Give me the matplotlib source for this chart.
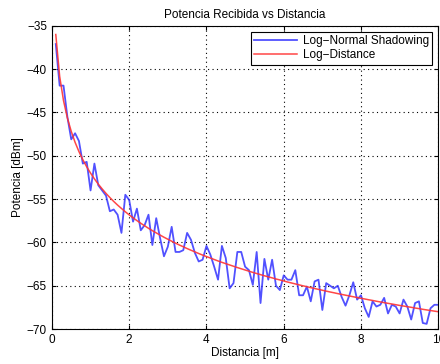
import matplotlib

matplotlib.use("Agg")
import matplotlib.pyplot as plt
import numpy as np

plt.rcParams["font.family"] = ["Liberation Sans", "DejaVu Sans"]

# distances 0.1 .. 10.0 m, step 0.1
distancia = np.round(np.arange(1, 101) * 0.1, 1)

# Log-Normal Shadowing samples (dBm)
shadowing = [
    -37.1, -41.9, -41.9, -45.5, -48.1, -47.4, -48.3, -50.9, -50.7, -54.0,
    -50.9, -53.4, -54.0, -54.6, -56.4, -56.2, -56.8, -58.9, -54.5, -55.1,
    -57.6, -56.1, -58.6, -58.0, -56.8, -60.3, -57.2, -59.5, -61.6, -60.5,
    -58.2, -61.1, -61.1, -60.9, -58.9, -59.7, -61.2, -62.2, -62.0, -60.4,
    -61.4, -62.8, -64.3, -60.4, -61.8, -65.3, -64.7, -61.1, -61.1, -62.8,
    -63.2, -64.9, -61.1, -67.0, -61.9, -64.3, -62.0, -65.0, -65.5, -63.8,
    -64.3, -64.3, -63.2, -66.1, -66.1, -65.1, -66.8, -64.5, -64.3, -67.8,
    -64.7, -65.0, -65.3, -65.0, -66.3, -67.3, -66.1, -64.6, -66.6, -66.1,
    -67.6, -68.6, -66.8, -67.4, -67.2, -66.4, -68.2, -67.2, -67.4, -68.2,
    -66.6, -67.4, -68.9, -67.0, -66.8, -69.3, -69.4, -67.6, -67.2, -67.2,
]

# Log-Distance curve (dBm)
log_distance = [
    -36.00, -40.82, -43.63, -45.63, -47.18, -48.45, -49.52, -50.45, -51.27, -52.00,
    -52.66, -53.27, -53.82, -54.34, -54.82, -55.27, -55.69, -56.08, -56.46, -56.82,
    -57.16, -57.48, -57.79, -58.08, -58.37, -58.64, -58.90, -59.15, -59.40, -59.63,
    -59.86, -60.08, -60.30, -60.50, -60.71, -60.90, -61.09, -61.28, -61.46, -61.63,
    -61.80, -61.97, -62.14, -62.30, -62.45, -62.60, -62.75, -62.90, -63.04, -63.18,
    -63.32, -63.46, -63.59, -63.72, -63.85, -63.97, -64.09, -64.22, -64.33, -64.45,
    -64.57, -64.68, -64.79, -64.90, -65.01, -65.11, -65.22, -65.32, -65.42, -65.52,
    -65.62, -65.72, -65.81, -65.91, -66.00, -66.09, -66.18, -66.27, -66.36, -66.45,
    -66.53, -66.62, -66.70, -66.79, -66.87, -66.95, -67.03, -67.11, -67.19, -67.27,
    -67.34, -67.42, -67.49, -67.57, -67.64, -67.72, -67.79, -67.86, -67.93, -68.00,
]

xticks = [0, 2, 4, 6, 8, 10]
yticks = [-70, -65, -60, -55, -50, -45, -40, -35]

fig = plt.figure(figsize=(4.4, 3.64), dpi=100)
ax = fig.add_axes([0.118, 0.096, 0.878, 0.833])

ax.plot(distancia, shadowing, color="#3333ff", lw=1.3, alpha=0.85, label="Log\u2212Normal Shadowing")
ax.plot(distancia, log_distance, color="#ff3333", lw=1.1, alpha=0.9, label="Log\u2212Distance")

ax.set_xlim(0, 10)
ax.set_ylim(-70, -35)
ax.set_xticks(xticks)
ax.set_yticks(yticks)
ax.grid(True, color="black", linestyle=(0, (1, 3)), lw=0.8)
ax.tick_params(direction="in", top=True, right=True, labelsize=8.5, length=3)
for s in ax.spines.values():
    s.set_linewidth(0.8)

ax.set_title("Potencia Recibida vs Distancia", fontsize=8.5, pad=6)
ax.set_xlabel("Distancia [m]", fontsize=8.5, labelpad=1)
ax.set_ylabel("Potencia [dBm]", fontsize=8.5, labelpad=2)

leg = ax.legend(loc="upper right", fontsize=8.5, fancybox=False, framealpha=1,
                edgecolor="black", borderaxespad=0.5, handlelength=3.6,
                borderpad=0.3, labelspacing=0.15, handletextpad=0.5)
leg.get_frame().set_linewidth(0.8)

fig.savefig("out.png", dpi=100)
